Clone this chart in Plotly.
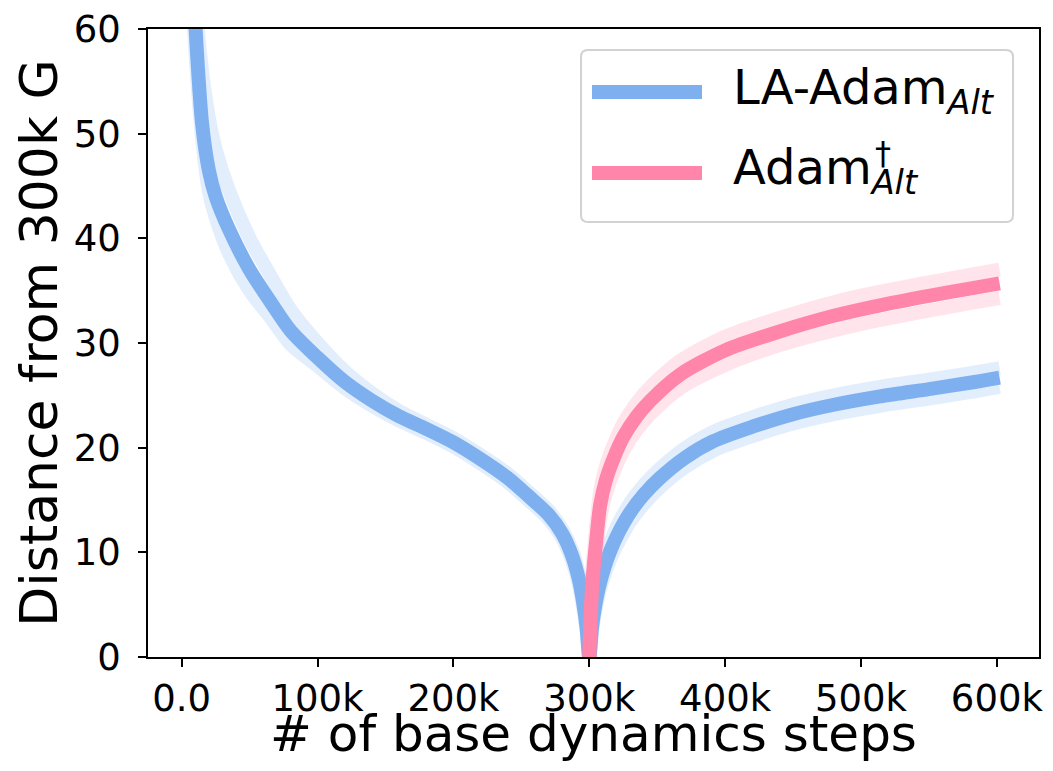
import plotly.graph_objects as go

# ---- data (steps in thousands) ----
blue_x = [5, 10, 15, 20, 25, 35, 50, 65, 80, 100, 120, 140, 160, 180, 200, 220, 240, 255, 270, 280,
          287, 292, 295.5, 298, 300,
          302, 304, 307, 311, 316, 322, 330, 340, 352, 370, 391, 420, 450, 480, 514, 550, 580, 602]
blue_y = [74, 60.5, 51, 46.5, 44, 40.8, 37, 34, 31.2, 28.6, 26.3, 24.5, 23.0, 21.8, 20.5, 18.9, 17.1, 15.4, 13.6, 11.8,
          9.8, 7.6, 5.2, 2.8, 0,
          2.8, 4.6, 6.6, 8.5, 10.3, 12.0, 13.8, 15.5, 17.1, 19.0, 20.6, 22.0, 23.2, 24.1, 24.9, 25.6, 26.2, 26.7]
blue_hi = [80, 63, 56, 51.5, 48.5, 44.5, 40, 36.5, 33.2, 30, 27.3, 25.2, 23.5, 22.2, 20.9, 19.3, 17.5, 15.8, 14.0, 12.2,
           10.3, 8.1, 5.7, 3.1, 0,
           3.2, 5.1, 7.2, 9.2, 11.1, 12.9, 14.7, 16.4, 18.0, 19.9, 21.5, 22.9, 24.1, 25.0, 25.8, 26.5, 27.1, 27.6]
blue_lo = [70, 58, 49.5, 44.5, 42, 38.5, 35, 32.5, 29.9, 27.8, 25.7, 24.0, 22.6, 21.4, 20.1, 18.5, 16.7, 15.0, 13.2, 11.4,
           9.3, 7.1, 4.7, 2.5, 0,
           2.4, 4.1, 6.0, 7.8, 9.5, 11.1, 12.9, 14.6, 16.2, 18.1, 19.7, 21.1, 22.3, 23.2, 24.0, 24.7, 25.3, 25.8]

pink_x = [300, 301, 302.5, 305, 308, 312, 318, 325, 335, 345, 367, 400, 440, 480, 514, 550, 580, 602]
pink_y = [0, 4, 7.5, 11, 14.5, 16.8, 19.0, 21.0, 23.0, 24.5, 27.0, 29.3, 31.1, 32.6, 33.6, 34.5, 35.2, 35.7]
pink_hi = [0, 5, 8.7, 12.3, 15.8, 18.1, 20.3, 22.3, 24.3, 25.8, 28.3, 30.6, 32.4, 33.9, 34.9, 35.8, 36.5, 37.0]
pink_lo = [0, 3, 6.3, 9.7, 13.2, 15.5, 17.7, 19.7, 21.7, 23.2, 25.7, 27.9, 29.8, 31.2, 32.2, 33.1, 33.8, 34.3]

x_tickvals = [0, 100, 200, 300, 400, 500, 600]
x_ticktext = ["0.0", "100k", "200k", "300k", "400k", "500k", "600k"]
y_tickvals = [0, 10, 20, 30, 40, 50, 60]

series_names = ["LA-Adam<sub><i>Alt</i></sub>", "Adam<sub><i>Alt</i></sub>"]

BLUE = "rgb(126,176,240)"
BLUE_A = "rgba(126,176,240,0.22)"
PINK = "rgb(255,133,170)"
PINK_A = "rgba(255,133,170,0.22)"
LW = 14
FONT = "DejaVu Sans"

fig = go.Figure()
for ys in (blue_hi, blue_lo):
    fig.add_trace(go.Scatter(x=blue_x, y=ys, mode="lines", showlegend=False, hoverinfo="skip",
                             line=dict(color=BLUE_A, width=LW, shape="spline", smoothing=0.8)))
fig.add_trace(go.Scatter(x=blue_x, y=blue_y, mode="lines", name="LA-Adam Alt", showlegend=False,
                         line=dict(color=BLUE, width=LW, shape="spline", smoothing=0.8)))
for ys in (pink_hi, pink_lo):
    fig.add_trace(go.Scatter(x=pink_x, y=ys, mode="lines", showlegend=False, hoverinfo="skip",
                             line=dict(color=PINK_A, width=LW, shape="spline", smoothing=0.8)))
fig.add_trace(go.Scatter(x=pink_x, y=pink_y, mode="lines", name="Adam Alt", showlegend=False,
                         line=dict(color=PINK, width=LW, shape="spline", smoothing=0.8)))

# page layout: the html body has an 8px margin, so the figure sits at (8, 8)
OFF = 8
FIG_W, FIG_H = 1053 - 2 * OFF, 771 - 2 * OFF
# plot-area edges in page px
L, R, T, B = 148, 1039, 29, 657
W, H = R - L, B - T
def px(x):
    return (x - L) / W
def py(y):
    return (B - y) / H

# custom legend box with rounded corners (page px)
x0, x1, y0, y1 = px(581), px(1013), py(222), py(50)
rx, ry = 7 / W, 7 / H
path = (f"M{x0+rx},{y1} L{x1-rx},{y1} Q{x1},{y1} {x1},{y1-ry} L{x1},{y0+ry} Q{x1},{y0} {x1-rx},{y0} "
        f"L{x0+rx},{y0} Q{x0},{y0} {x0},{y0+ry} L{x0},{y1-ry} Q{x0},{y1} {x0+rx},{y1} Z")
fig.add_shape(type="path", path=path, xref="paper", yref="paper",
              line=dict(color="rgb(210,210,210)", width=2), fillcolor="rgba(255,255,255,0.8)", layer="above")
legend_colors = [BLUE, PINK]
legend_ys = [92, 173]
for name, col, yy in zip(series_names, legend_colors, legend_ys):
    fig.add_shape(type="line", xref="paper", yref="paper", x0=px(592), x1=px(702), y0=py(yy), y1=py(yy),
                  line=dict(color=col, width=LW), layer="above")
    fig.add_annotation(text=name, xref="paper", yref="paper", x=px(731), y=py(yy - 2),
                       xanchor="left", yanchor="middle", showarrow=False,
                       font=dict(family=FONT, size=48, color="black"))
fig.add_annotation(text="†", xref="paper", yref="paper", x=px(873), y=py(153), xanchor="left",
                   yanchor="middle", showarrow=False, font=dict(family=FONT, size=32, color="black"))

axis_common = dict(showline=True, mirror=True, linecolor="black", linewidth=1.5, ticks="outside",
                   ticklen=8, tickwidth=1.5, tickcolor="black", showgrid=False, zeroline=False,
                   automargin=False, ticklabeloverflow="allow",
                   tickfont=dict(family=FONT, size=37, color="black"))
fig.update_layout(
    width=FIG_W, height=FIG_H, plot_bgcolor="white", paper_bgcolor="white",
    margin=dict(l=L - OFF, r=FIG_W - (R - OFF), t=T - OFF, b=FIG_H - (B - OFF)),
    xaxis=dict(range=[-24.8, 631], tickvals=x_tickvals, ticktext=x_ticktext,
               title=dict(text="# of base dynamics steps", font=dict(family=FONT, size=50, color="black"), standoff=10),
               **axis_common),
    yaxis=dict(range=[0, 60], tickvals=y_tickvals, ticklabelstandoff=10,
               title=dict(text="Distance from 300k G", font=dict(family=FONT, size=52, color="black"), standoff=0),
               **axis_common),
)
fig.write_html("out.html")
